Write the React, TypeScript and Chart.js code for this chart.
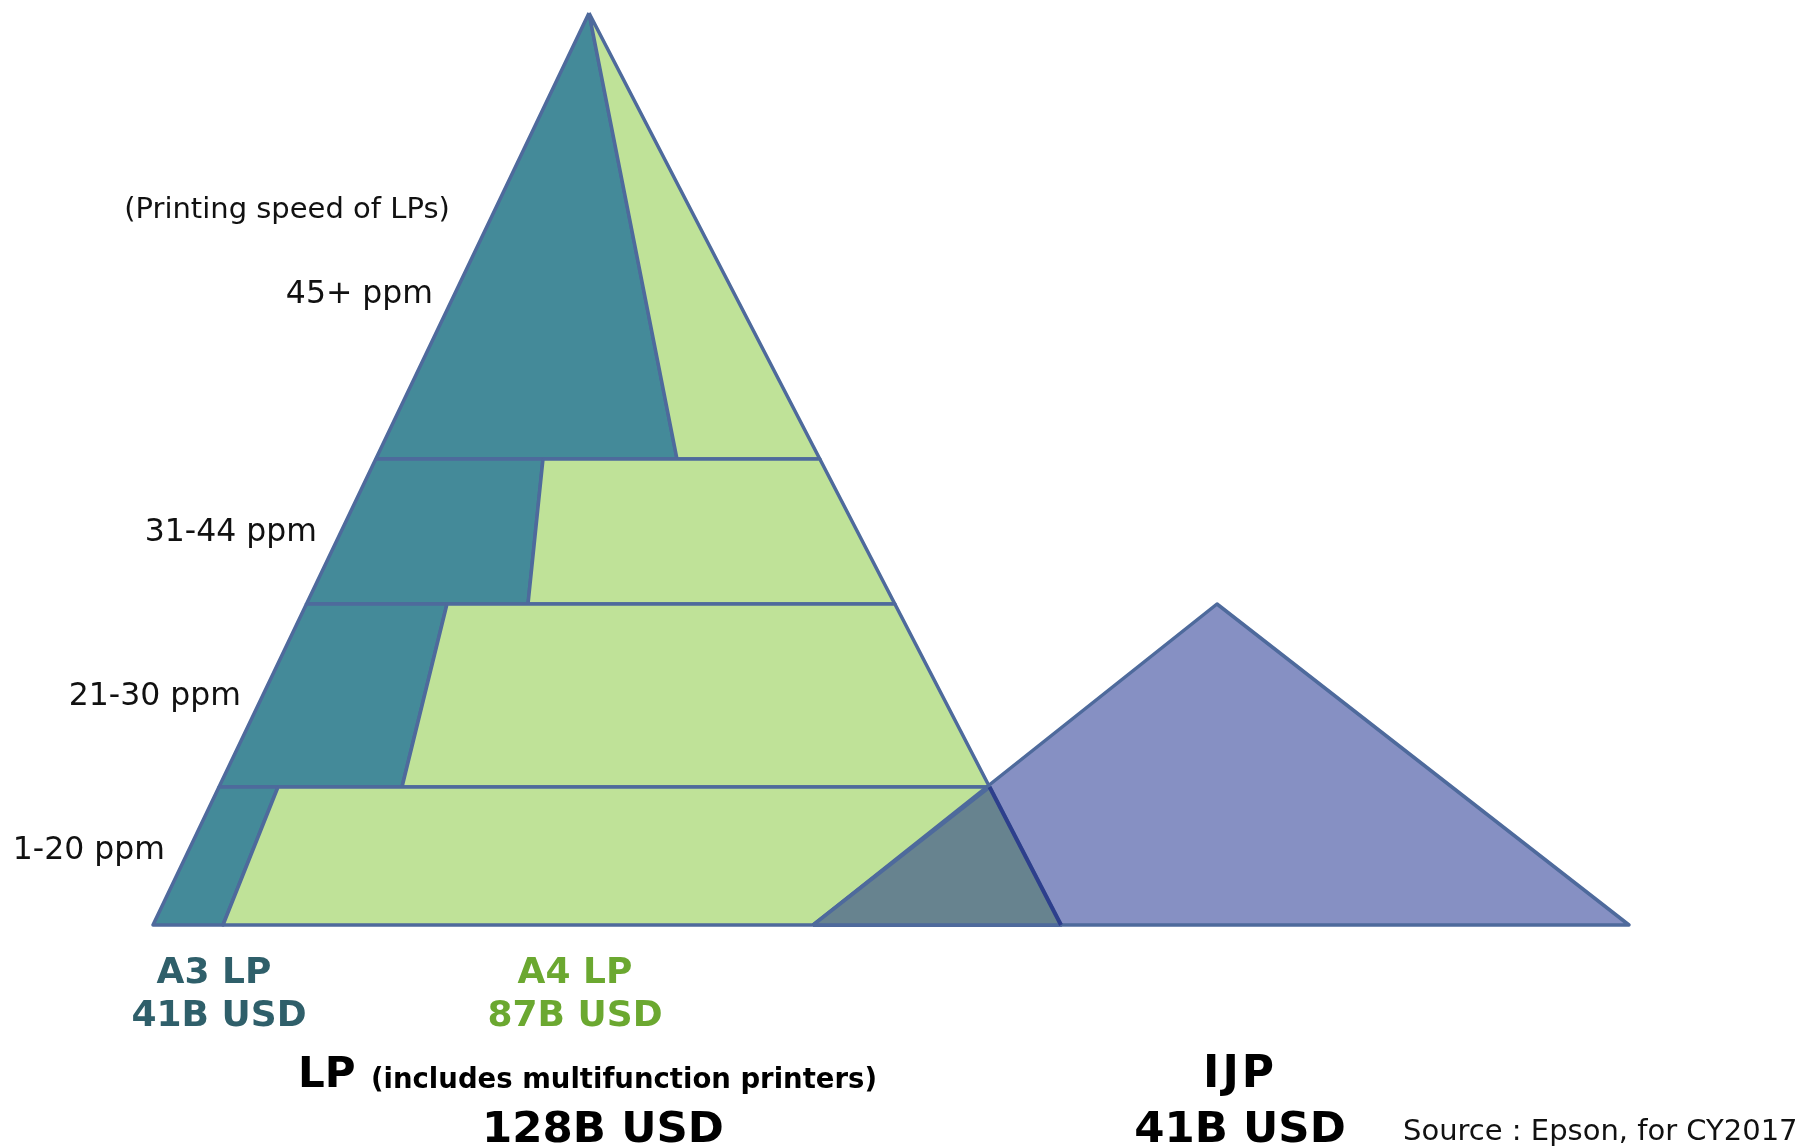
import React, { useEffect, useRef } from "react";
import { Chart, registerables } from "chart.js";

Chart.register(...registerables);

// ---- Data (diagram geometry in canvas units, y grows downward) ----
const speedLevels = ["45+ ppm", "31-44 ppm", "21-30 ppm", "1-20 ppm"];
const levelY = [13, 459, 604, 787, 925]; // band boundaries, top to bottom
const a3SplitTopX = [589, 543, 447, 278]; // A3 / A4 split at top of each band
const a3SplitBottomX = [677, 528, 402, 223]; // A3 / A4 split at bottom of each band
const lpApex = [589, 13];
const lpBaseLeftX = 153;
const lpBaseRightX = 1061;
const ijpX = [813, 1217, 1629];
const ijpY = [925, 604, 925];

const speedLabelRightX = [433, 317, 241, 165];
const speedLabelY = [295, 533, 697, 851];

const COLORS = {
  a3: "#448A99",
  a4: "#BFE298",
  ijp: "#8690C3",
  overlap: "#67838F",
  stroke: "#4E6A9C",
  navy: "#2D3F8C",
  a3Text: "#2F5F6A",
  a4Text: "#6BA830",
};

type Pt = { x: number; y: number };

const leftEdgeX = (y: number) =>
  lpApex[0] + ((lpBaseLeftX - lpApex[0]) * (y - lpApex[1])) / (levelY[4] - lpApex[1]);
const rightEdgeX = (y: number) =>
  lpApex[0] + ((lpBaseRightX - lpApex[0]) * (y - lpApex[1])) / (levelY[4] - lpApex[1]);

const close = (pts: Pt[]) => [...pts, pts[0]];

type Txt = {
  text: string;
  x: number;
  y: number;
  align: CanvasTextAlign;
  font: string;
  color: string;
  spacing?: string;
};

const FONT = '"DejaVu Sans", Verdana, sans-serif';

const texts: Txt[] = [
  { text: "(Printing speed of LPs)", x: 287, y: 210, align: "center", font: `29px ${FONT}`, color: "#111" },
  ...speedLevels.map((s, i) => ({
    text: s,
    x: speedLabelRightX[i],
    y: speedLabelY[i],
    align: "right" as CanvasTextAlign,
    font: `31.5px ${FONT}`,
    color: "#111",
  })),
  { text: "A3 LP", x: 214, y: 974, align: "center", font: `bold 36px ${FONT}`, color: COLORS.a3Text },
  { text: "41B USD", x: 219, y: 1017, align: "center", font: `bold 36px ${FONT}`, color: COLORS.a3Text },
  { text: "A4 LP", x: 575, y: 974, align: "center", font: `bold 36px ${FONT}`, color: COLORS.a4Text },
  { text: "87B USD", x: 575, y: 1017, align: "center", font: `bold 36px ${FONT}`, color: COLORS.a4Text },
  { text: "LP", x: 298, y: 1076, align: "left", font: `bold 42px ${FONT}`, color: "#000" },
  { text: "(includes multifunction printers)", x: 371, y: 1081, align: "left", font: `bold 27.5px ${FONT}`, color: "#000" },
  { text: "128B USD", x: 603, y: 1131, align: "center", font: `bold 43.5px ${FONT}`, color: "#000" },
  { text: "IJP", x: 1240, y: 1076, align: "center", font: `bold 44px ${FONT}`, color: "#000", spacing: "3px" },
  { text: "41B USD", x: 1240, y: 1131, align: "center", font: `bold 43.5px ${FONT}`, color: "#000" },
  { text: "Source : Epson, for CY2017", x: 1403, y: 1132, align: "left", font: `29px ${FONT}`, color: "#111" },
];

const textPlugin = {
  id: "diagramText",
  afterDraw(chart: any) {
    const { ctx, scales } = chart;
    ctx.save();
    ctx.textBaseline = "middle";
    for (const t of texts) {
      ctx.font = t.font;
      ctx.fillStyle = t.color;
      ctx.textAlign = t.align;
      (ctx as any).letterSpacing = t.spacing || "0px";
      ctx.fillText(t.text, scales.x.getPixelForValue(t.x), scales.y.getPixelForValue(t.y));
    }
    ctx.restore();
  },
};

function buildDatasets() {
  const shapes: { pts: Pt[]; fill: string; stroke: string; width: number; closed: boolean }[] = [];
  for (let i = 0; i < 4; i++) {
    const yt = levelY[i];
    const yb = levelY[i + 1];
    const dark: Pt[] = [
      { x: leftEdgeX(yt), y: yt },
      { x: a3SplitTopX[i], y: yt },
      { x: a3SplitBottomX[i], y: yb },
      { x: leftEdgeX(yb), y: yb },
    ];
    const light: Pt[] = [
      { x: a3SplitTopX[i], y: yt },
      { x: rightEdgeX(yt), y: yt },
      { x: rightEdgeX(yb), y: yb },
      { x: a3SplitBottomX[i], y: yb },
    ];
    shapes.push({ pts: dark, fill: COLORS.a3, stroke: COLORS.stroke, width: 3.5, closed: true });
    shapes.push({ pts: light, fill: COLORS.a4, stroke: COLORS.stroke, width: 3.5, closed: true });
  }
  const ijp: Pt[] = ijpX.map((x, i) => ({ x, y: ijpY[i] }));
  shapes.push({ pts: ijp, fill: COLORS.ijp, stroke: COLORS.stroke, width: 3.5, closed: true });
  const junction: Pt = { x: rightEdgeX(levelY[3]), y: levelY[3] };
  const overlap: Pt[] = [{ x: ijpX[0], y: ijpY[0] }, junction, { x: lpBaseRightX, y: levelY[4] }];
  shapes.push({ pts: overlap, fill: COLORS.overlap, stroke: COLORS.stroke, width: 3.5, closed: true });
  shapes.push({
    pts: [junction, { x: lpBaseRightX, y: levelY[4] }],
    fill: "transparent",
    stroke: COLORS.navy,
    width: 4,
    closed: false,
  });

  const n = shapes.length;
  return shapes.map((s, i) => ({
    data: s.closed ? close(s.pts) : s.pts,
    showLine: true,
    fill: s.closed ? "shape" : false,
    backgroundColor: s.fill,
    borderColor: s.stroke,
    borderWidth: s.width,
    borderJoinStyle: "round" as const,
    pointRadius: 0,
    pointHoverRadius: 0,
    tension: 0,
    order: n - i,
    clip: false as any,
  }));
}

export default function App() {
  const ref = useRef<HTMLCanvasElement | null>(null);
  useEffect(() => {
    if (!ref.current) return;
    const chart = new Chart(ref.current, {
      type: "scatter",
      data: { datasets: buildDatasets() as any },
      options: {
        responsive: false,
        animation: false,
        events: [],
        layout: { padding: 0 },
        plugins: { legend: { display: false }, tooltip: { enabled: false } },
        scales: {
          x: { type: "linear", min: 0, max: 1806, display: false },
          y: { type: "linear", min: 0, max: 1148, reverse: true, display: false },
        },
      },
      plugins: [textPlugin],
    });
    return () => chart.destroy();
  }, []);
  return (
    <div style={{ position: "fixed", left: 0, top: 0, width: 1806, height: 1148, background: "#fff" }}>
      <canvas ref={ref} width={1806} height={1148} />
    </div>
  );
}
